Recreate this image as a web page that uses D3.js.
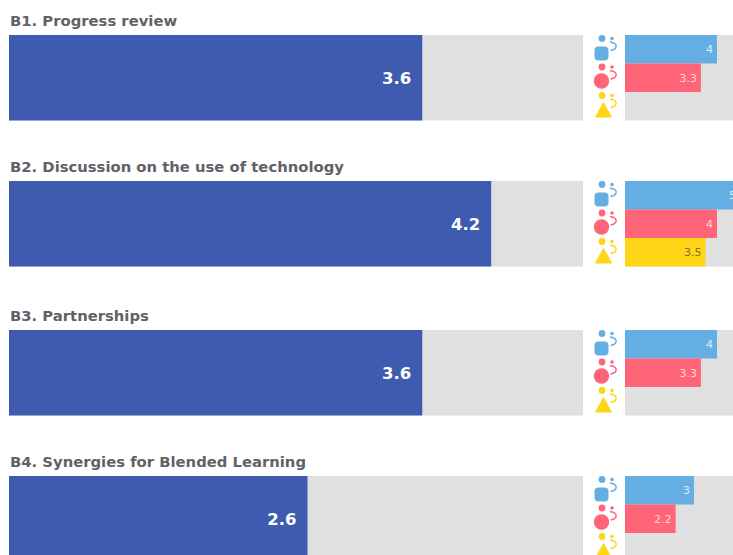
<!DOCTYPE html>
<html lang="en">
<head>
<meta charset="UTF-8">
<title>Blended learning scores</title>
<style>
  html, body { margin: 0; padding: 0; background: #fff; overflow: hidden; }
  svg { display: block; }
  text { font-family: "DejaVu Sans", sans-serif; }
</style>
</head>
<body>
<div id="chart"></div>
<script src="https://d3js.org/d3.v7.min.js"></script>
<script>
const titles = ["B1. Progress review", "B2. Discussion on the use of technology", "B3. Partnerships", "B4. Synergies for Blended Learning"];
const overall = [3.6, 4.2, 3.6, 2.6];
const groups = ["blue", "red", "yellow"];
const blueValues = [4, 5, 4, 3];
const redValues = [3.3, 4, 3.3, 2.2];
const yellowValues = [null, 3.5, null, null];

const colors = { blue: "#65aee3", red: "#ff6479", yellow: "#ffd617" };
const labelColors = { blue: "#d8ecf9", red: "#ffd5da", yellow: "#80722a" };
const series = { blue: blueValues, red: redValues, yellow: yellowValues };

const width = 733, height = 555;
const svg = d3.select("#chart").append("svg").attr("width", width).attr("height", height);

const panelY = d3.scaleOrdinal().domain(titles).range([35, 181, 330, 476]);
const x = d3.scaleLinear().domain([0, 5]).range([9, 583]);
const xSmall = d3.scaleLinear().domain([0, 5]).range([625, 740]);
const rowY = d3.scaleBand().domain(groups).range([0, 85.5]);

// icon next to each small bar, drawn relative to the top of its row
function drawIcon(g, group) {
  const c = colors[group];
  g.append("circle").attr("cx", 602).attr("cy", 3.5).attr("r", 3.4).attr("fill", c);
  g.append("circle").attr("cx", 612).attr("cy", 3.5).attr("r", 1.8).attr("fill", c);
  g.append("path")
    .attr("d", "M610,7 Q617,8 616,12 Q615,15 610.5,15.5")
    .attr("fill", "none").attr("stroke", c).attr("stroke-width", 1.6);
  if (group === "blue") {
    g.append("rect").attr("x", 594.5).attr("y", 11.5).attr("width", 14).attr("height", 14).attr("rx", 4).attr("fill", c);
  } else if (group === "red") {
    g.append("circle").attr("cx", 601.5).attr("cy", 17.5).attr("r", 7.7).attr("fill", c);
  } else {
    g.append("path").attr("d", "M603.5,10.5 L611.5,25 L595.5,25 Z").attr("fill", c).attr("stroke", c).attr("stroke-linejoin", "round");
  }
}

titles.forEach((title, i) => {
  const panel = svg.append("g").attr("transform", `translate(0,${panelY(title)})`);

  panel.append("text")
    .attr("x", 10).attr("y", -9)
    .attr("font-size", 14.8).attr("font-weight", "bold").attr("fill", "#606266")
    .text(title);

  panel.append("rect").attr("x", x(0)).attr("y", 0)
    .attr("width", x(5) - x(0)).attr("height", 85.5).attr("fill", "#e0e0e0");
  panel.append("rect").attr("x", x(0)).attr("y", 0)
    .attr("width", x(overall[i]) - x(0)).attr("height", 85.5).attr("fill", "#3f5bb0");
  panel.append("text")
    .attr("x", x(overall[i]) - 11).attr("y", 49)
    .attr("text-anchor", "end").attr("font-size", 16.5).attr("font-weight", "bold").attr("fill", "#fff")
    .text(overall[i].toFixed(1));

  panel.append("rect").attr("x", xSmall(0)).attr("y", 0)
    .attr("width", width - xSmall(0)).attr("height", 85.5).attr("fill", "#e0e0e0");

  groups.forEach(group => {
    const row = panel.append("g").attr("transform", `translate(0,${rowY(group)})`);
    const v = series[group][i];
    drawIcon(row, group);
    if (v === null) return;
    row.append("rect").attr("x", xSmall(0)).attr("y", 0)
      .attr("width", xSmall(v) - xSmall(0)).attr("height", rowY.bandwidth())
      .attr("fill", colors[group]);
    row.append("text")
      .attr("x", xSmall(v) - 4).attr("y", 18)
      .attr("text-anchor", "end").attr("font-size", 11).attr("fill", labelColors[group])
      .text(v);
  });
});
</script>
</body>
</html>
